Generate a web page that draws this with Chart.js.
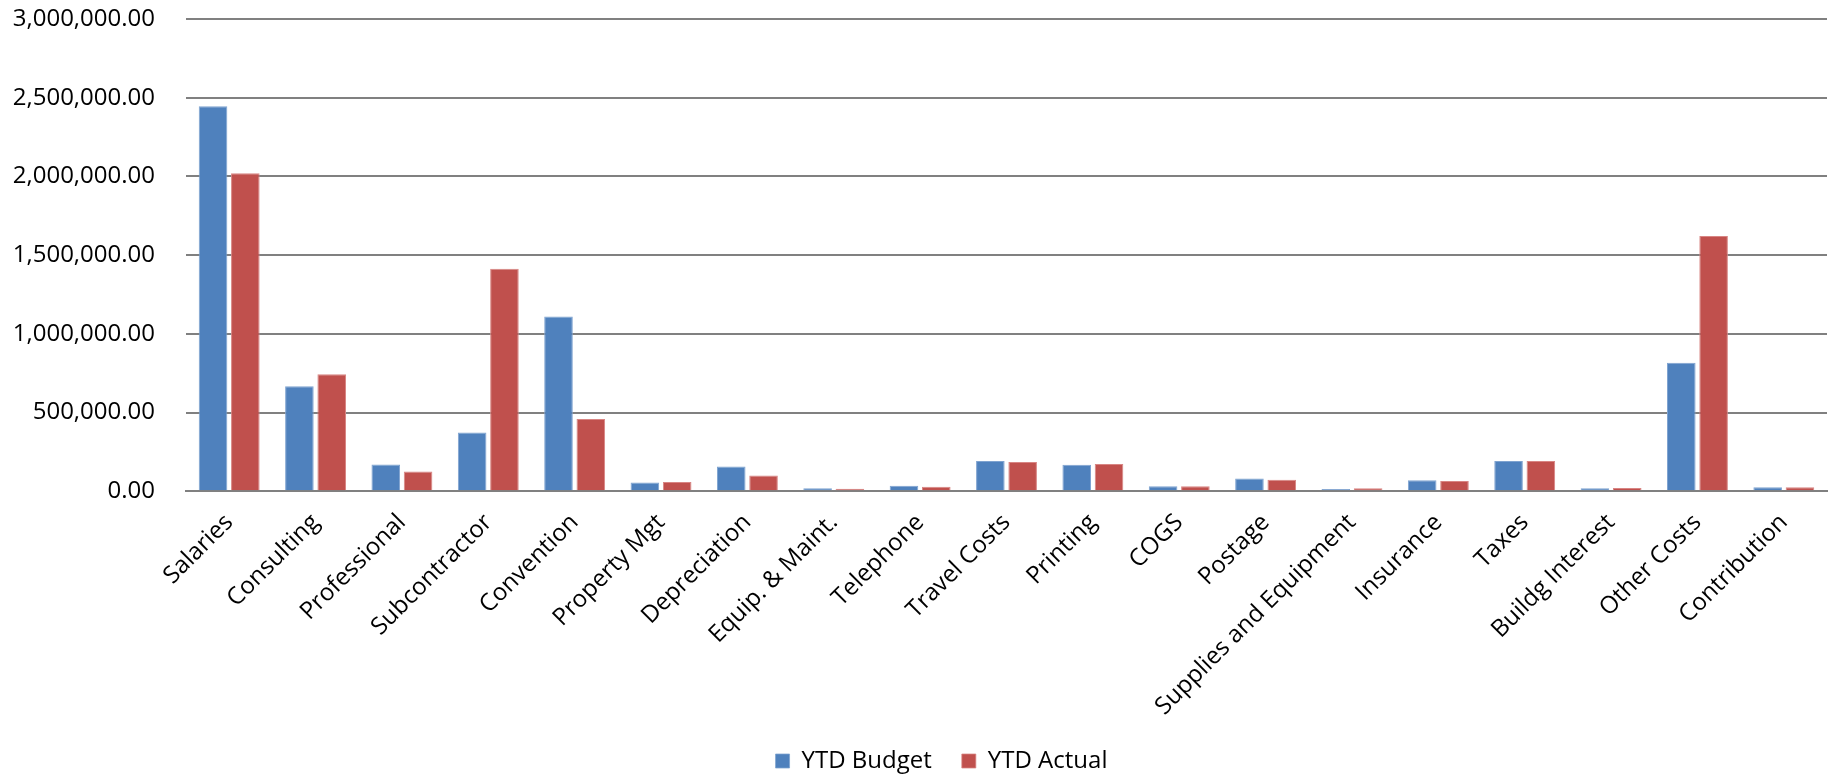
<!DOCTYPE html>
<html>
<head>
<meta charset="utf-8">
<script src="https://cdn.jsdelivr.net/npm/chart.js@4/dist/chart.umd.min.js"></script>
<style>
  html, body { margin: 0; padding: 0; background: #fff; }
  #wrap { width: 1842px; height: 775px; }
</style>
</head>
<body>
<div id="wrap"><canvas id="costs"></canvas></div>
<script>
var categories = [
  "Salaries", "Consulting", "Professional", "Subcontractor", "Convention",
  "Property Mgt", "Depreciation", "Equip. & Maint.", "Telephone", "Travel Costs",
  "Printing", "COGS", "Postage", "Supplies and Equipment", "Insurance",
  "Taxes", "Buildg Interest", "Other Costs", "Contribution"
];

var ytdBudget = [
  2446000, 668000, 171000, 373000, 1110000,
  56000, 158000, 19000, 36000, 192000,
  169000, 32000, 81000, 15000, 71000,
  192000, 19000, 816000, 26000
];

var ytdActual = [
  2020000, 743000, 126000, 1413000, 460000,
  60000, 100000, 17000, 30000, 186000,
  173000, 32000, 73000, 19000, 66000,
  192000, 21000, 1621000, 26000
];

Chart.defaults.font.family = "'Open Sans', sans-serif";
Chart.defaults.font.size = 24;
Chart.defaults.color = "#000";

// nudge the legend a little to the right, like the original
var legendShift = {
  id: "legendShift",
  afterLayout: function (chart) {
    chart.legend.left += 22;
    chart.legend.right += 22;
  }
};

var ctx = document.getElementById("costs").getContext("2d");
var chart = new Chart(ctx, {
  type: "bar",
  data: {
    labels: categories,
    datasets: [
      {
        label: "YTD Budget",
        data: ytdBudget,
        backgroundColor: "#4f81bd",
        borderColor: "#7fa3d0",
        borderWidth: { top: 1, left: 1, right: 1, bottom: 0 }
      },
      {
        label: "YTD Actual",
        data: ytdActual,
        backgroundColor: "#c0504d",
        borderColor: "#d88583",
        borderWidth: { top: 1, left: 1, right: 1, bottom: 0 }
      }
    ]
  },
  plugins: [legendShift],
  options: {
    responsive: true,
    maintainAspectRatio: false,
    animation: false,
    categoryPercentage: 0.748,
    barPercentage: 0.885,
    layout: { padding: { left: 12, right: 15, top: 19, bottom: -8 } },
    plugins: {
      tooltip: { enabled: false },
      legend: {
        position: "bottom",
        labels: { boxWidth: 14, boxHeight: 14, padding: 30 }
      }
    },
    scales: {
      x: {
        grid: { display: false, drawTicks: false },
        border: { color: "#808080", width: 2 },
        ticks: { maxRotation: 45, minRotation: 45, autoSkip: false, padding: 17 },
        afterFit: function (scale) {
          scale.paddingLeft = 0;
          scale.paddingRight = 0;
          scale.height -= 19;
        }
      },
      y: {
        min: 0,
        max: 3000000,
        grid: { color: "#808080", lineWidth: 2, drawTicks: false },
        border: { display: false },
        ticks: {
          stepSize: 500000,
          padding: 31,
          callback: function (v) {
            return v.toLocaleString("en-US", { minimumFractionDigits: 2, maximumFractionDigits: 2 });
          }
        },
        afterFit: function (scale) {
          scale.width = 174;
          scale.paddingTop = 0;
          scale.paddingBottom = 0;
        }
      }
    }
  }
});
</script>
</body>
</html>
